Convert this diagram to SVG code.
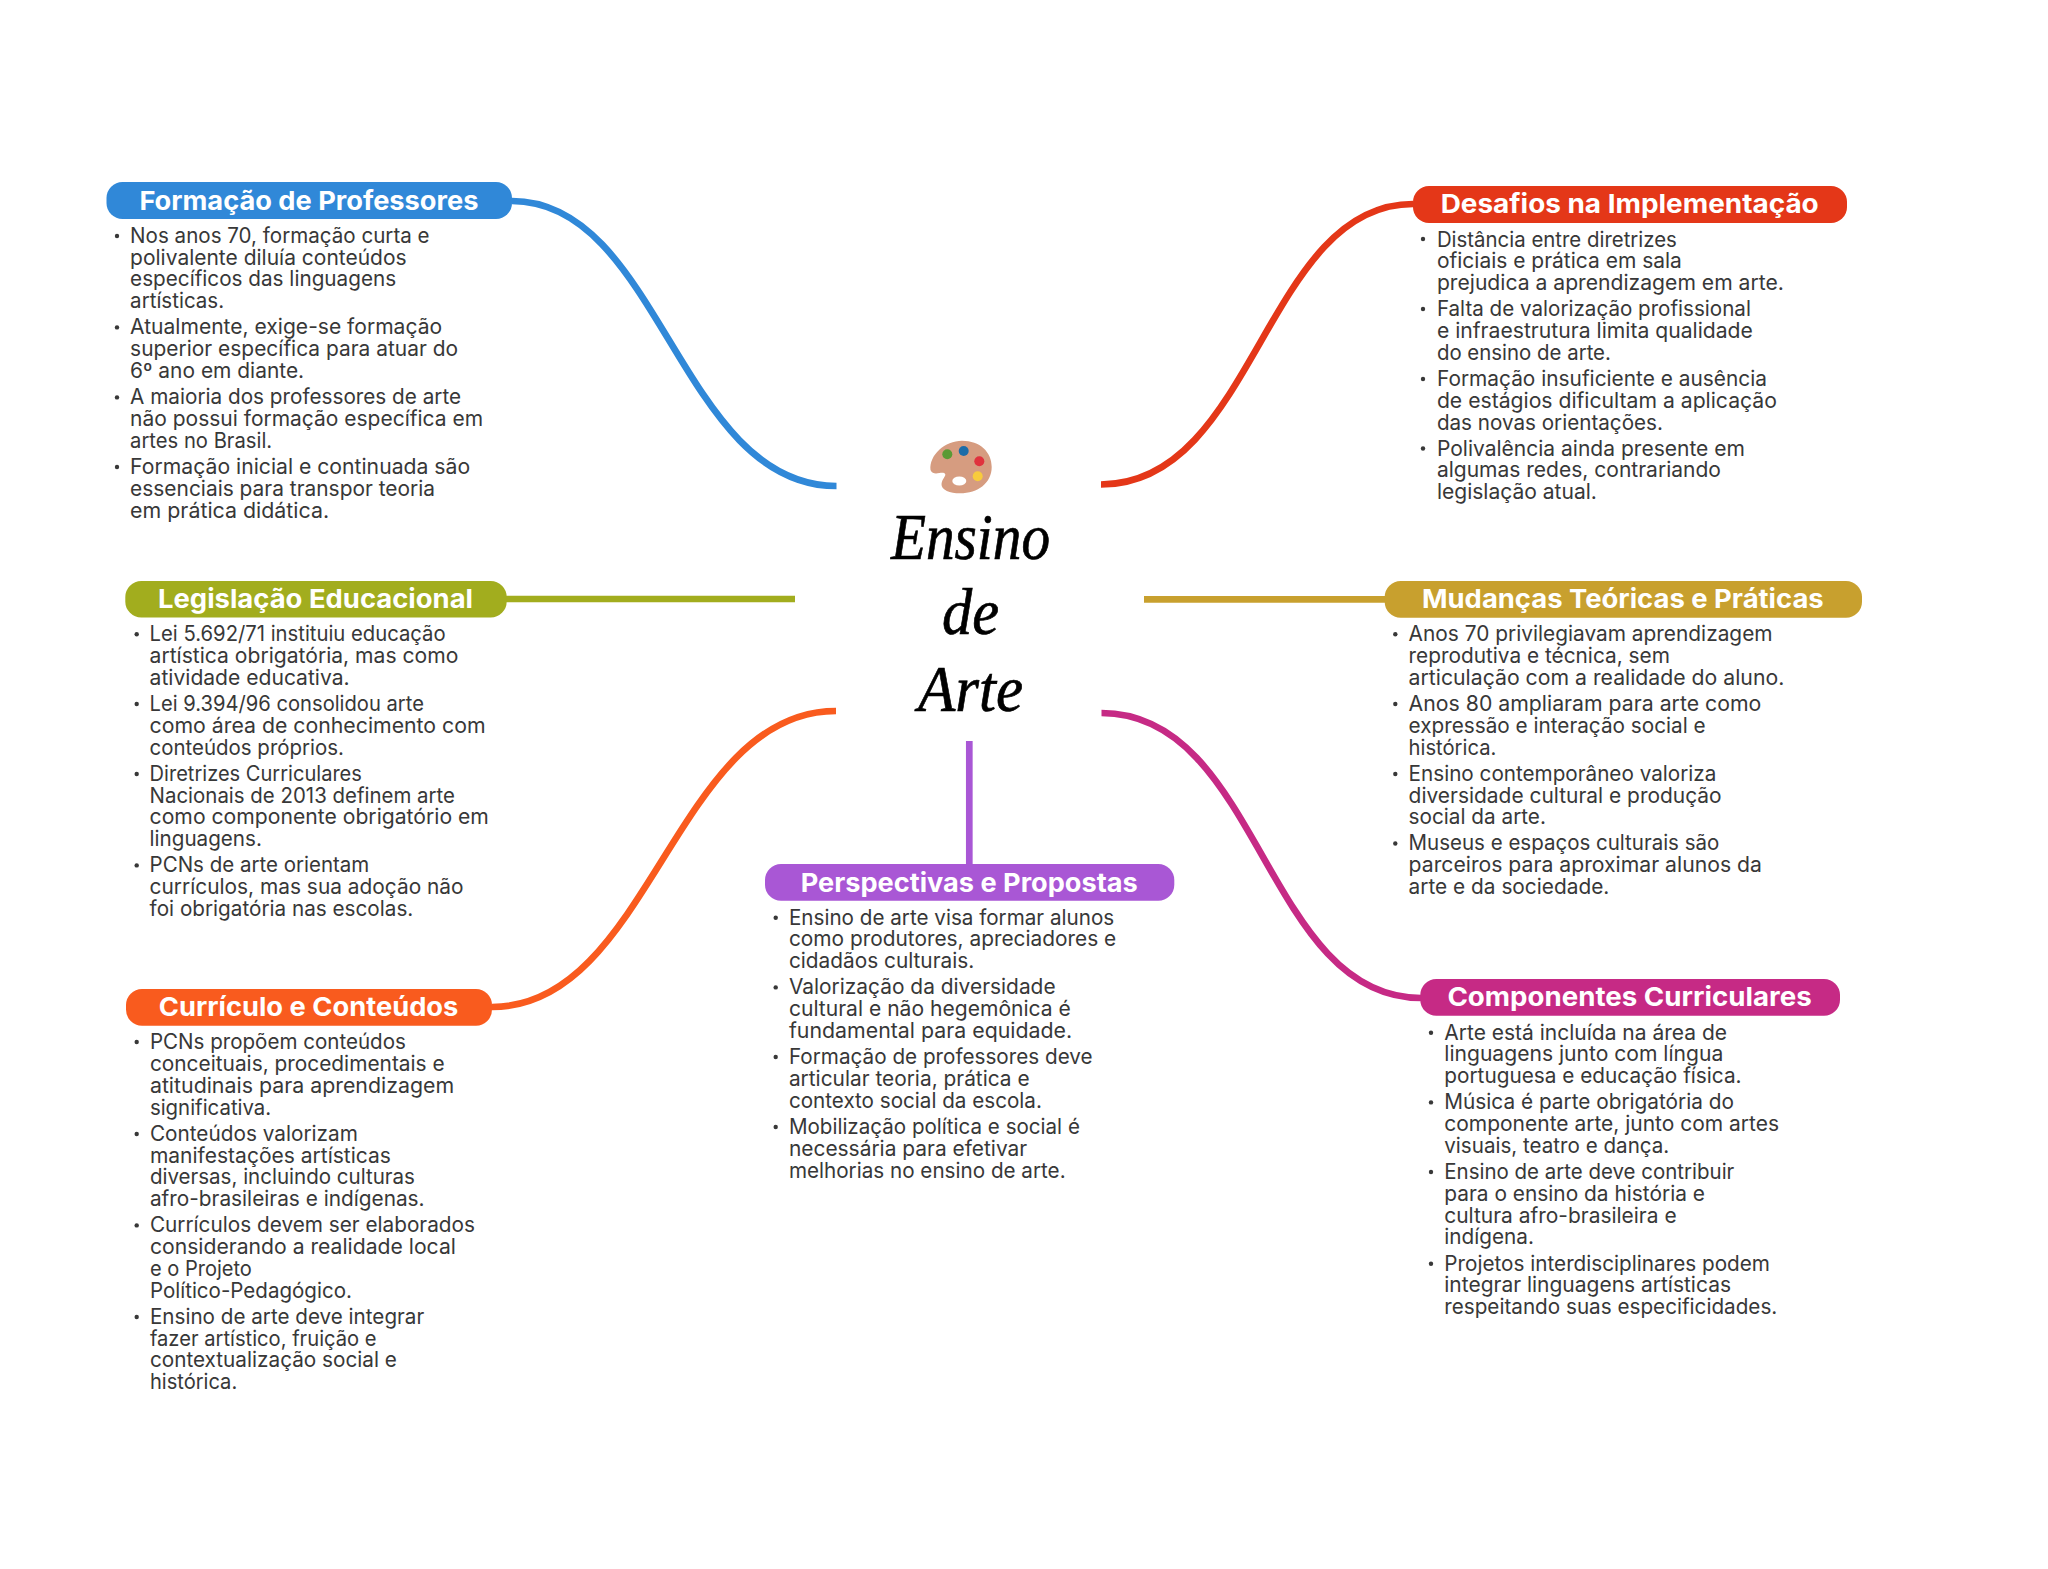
<svg xmlns="http://www.w3.org/2000/svg" width="2048" height="1569" viewBox="0 0 2048 1569">
<style>
.bg{fill:#fff}
.c{fill:none;stroke-width:6.7;stroke-linecap:butt}
.t{font-family:"Inter","Liberation Sans",sans-serif;font-size:26px;font-weight:700;fill:#fff;transform:translate(-.3px,.9px)}
.b{font-family:"Inter","Liberation Sans",sans-serif;font-size:21px;font-weight:400;fill:#383838;transform:translate(-.4px,.7px)}
.d{fill:#383838}
.m{font-family:"Liberation Serif",serif;font-style:italic;font-size:66px;fill:#000;stroke:#000;stroke-width:.7}
</style>
<defs><filter id="soft" x="-10%" y="-10%" width="120%" height="120%"><feGaussianBlur stdDeviation="0.5"/></filter></defs>
<rect class="bg" width="2048" height="1569"/>
<g id="connectors">
<path class="c" stroke="#3088D8" d="M512,201 C660,201 680,486 836.5,486"/>
<path class="c" stroke="#E43718" d="M1413,204 C1265,204 1255,484.5 1101,484.5"/>
<path class="c" stroke="#A2AD1E" d="M506,599 H795"/>
<path class="c" stroke="#C8A02E" d="M1144,599.3 H1386"/>
<path class="c" stroke="#F95B1E" d="M492,1007 C650,1007 675,711 836,711"/>
<path class="c" stroke="#C62A85" d="M1421,998 C1265,998 1260,713 1101.5,713"/>
<path class="c" stroke="#A957D5" d="M969.3,741 V865"/>
</g>
<g id="central">
<g filter="url(#soft)">
<path fill="#D69C80" d="M930.5,470 C929,455 945,440.7 962,440.7 C980,440.7 991.7,452 991.7,467 C991.7,483 978,493.3 960,493.3 C950,493.3 941,490 941.5,484 C942,478 948,475 944,473 C940,472 933,476 930.5,470Z"/>
<circle cx="947.3" cy="454.3" r="5" fill="#5A9A35"/>
<circle cx="963.7" cy="451" r="5" fill="#1F6CA8"/>
<circle cx="979.3" cy="461.3" r="5" fill="#E0303E"/>
<circle cx="977.7" cy="476.3" r="5" fill="#F8CB3C"/>
<ellipse cx="959.3" cy="481" rx="7" ry="4.5" fill="#fff"/>
</g>
<text class="m" x="891" y="559" textLength="159" lengthAdjust="spacingAndGlyphs">Ensino</text>
<text class="m" x="942" y="634" textLength="57" lengthAdjust="spacingAndGlyphs">de</text>
<text class="m" x="918" y="711" textLength="105" lengthAdjust="spacingAndGlyphs">Arte</text>
</g>
<g id="formacao-professores">
<rect x="106.5" y="182" width="405.5" height="37" rx="16" fill="#3088D8"/>
<text class="t" x="139.7" y="209.3" textLength="339" lengthAdjust="spacingAndGlyphs">Formação de Professores</text>
<circle class="d" cx="117" cy="236" r="2.2"/><circle class="d" cx="117" cy="327.4" r="2.2"/><circle class="d" cx="117" cy="397.4" r="2.2"/><circle class="d" cx="117" cy="467" r="2.2"/>
<text class="b" x="130.5" y="242.3" textLength="299.5" lengthAdjust="spacingAndGlyphs">Nos anos 70, formação curta e</text>
<text class="b" x="130.5" y="264" textLength="276.5" lengthAdjust="spacingAndGlyphs">polivalente diluía conteúdos</text>
<text class="b" x="130.5" y="285.7" textLength="266" lengthAdjust="spacingAndGlyphs">específicos das linguagens</text>
<text class="b" x="130.5" y="307.3" textLength="94" lengthAdjust="spacingAndGlyphs">artísticas.</text>
<text class="b" x="130.5" y="333.7" textLength="312" lengthAdjust="spacingAndGlyphs">Atualmente, exige-se formação</text>
<text class="b" x="130.5" y="355.7" textLength="328" lengthAdjust="spacingAndGlyphs">superior específica para atuar do</text>
<text class="b" x="130.5" y="377.3" textLength="174" lengthAdjust="spacingAndGlyphs">6º ano em diante.</text>
<text class="b" x="130.5" y="403.7" textLength="331" lengthAdjust="spacingAndGlyphs">A maioria dos professores de arte</text>
<text class="b" x="130.5" y="425.7" textLength="353" lengthAdjust="spacingAndGlyphs">não possui formação específica em</text>
<text class="b" x="130.5" y="447.3" textLength="142" lengthAdjust="spacingAndGlyphs">artes no Brasil.</text>
<text class="b" x="130.5" y="473.3" textLength="340" lengthAdjust="spacingAndGlyphs">Formação inicial e continuada são</text>
<text class="b" x="130.5" y="495" textLength="305" lengthAdjust="spacingAndGlyphs">essenciais para transpor teoria</text>
<text class="b" x="130.5" y="517" textLength="199" lengthAdjust="spacingAndGlyphs">em prática didática.</text>
</g>
<g id="legislacao-educacional">
<rect x="125.3" y="581" width="381.4" height="36.5" rx="16" fill="#A2AD1E"/>
<text class="t" x="158.3" y="607.3" textLength="315" lengthAdjust="spacingAndGlyphs">Legislação Educacional</text>
<circle class="d" cx="136.7" cy="634.3" r="2.2"/><circle class="d" cx="136.7" cy="704" r="2.2"/><circle class="d" cx="136.7" cy="774" r="2.2"/><circle class="d" cx="136.7" cy="865.4" r="2.2"/>
<text class="b" x="150" y="640.3" textLength="296" lengthAdjust="spacingAndGlyphs">Lei 5.692/71 instituiu educação</text>
<text class="b" x="150" y="662" textLength="308.7" lengthAdjust="spacingAndGlyphs">artística obrigatória, mas como</text>
<text class="b" x="150" y="684" textLength="200" lengthAdjust="spacingAndGlyphs">atividade educativa.</text>
<text class="b" x="150" y="710.3" textLength="274.3" lengthAdjust="spacingAndGlyphs">Lei 9.394/96 consolidou arte</text>
<text class="b" x="150" y="732" textLength="336" lengthAdjust="spacingAndGlyphs">como área de conhecimento com</text>
<text class="b" x="150" y="754" textLength="194.3" lengthAdjust="spacingAndGlyphs">conteúdos próprios.</text>
<text class="b" x="150" y="780" textLength="212.3" lengthAdjust="spacingAndGlyphs">Diretrizes Curriculares</text>
<text class="b" x="150" y="802" textLength="305.3" lengthAdjust="spacingAndGlyphs">Nacionais de 2013 definem arte</text>
<text class="b" x="150" y="823.7" textLength="339.3" lengthAdjust="spacingAndGlyphs">como componente obrigatório em</text>
<text class="b" x="150" y="845.3" textLength="112.3" lengthAdjust="spacingAndGlyphs">linguagens.</text>
<text class="b" x="150" y="871.7" textLength="219.7" lengthAdjust="spacingAndGlyphs">PCNs de arte orientam</text>
<text class="b" x="150" y="893.3" textLength="314" lengthAdjust="spacingAndGlyphs">currículos, mas sua adoção não</text>
<text class="b" x="150" y="915.3" textLength="263.7" lengthAdjust="spacingAndGlyphs">foi obrigatória nas escolas.</text>
</g>
<g id="curriculo-conteudos">
<rect x="126" y="989" width="366" height="36.7" rx="16" fill="#F95B1E"/>
<text class="t" x="159" y="1015" textLength="299.7" lengthAdjust="spacingAndGlyphs">Currículo e Conteúdos</text>
<circle class="d" cx="136.7" cy="1042" r="2.2"/><circle class="d" cx="136.7" cy="1134" r="2.2"/><circle class="d" cx="136.7" cy="1225.4" r="2.2"/><circle class="d" cx="136.7" cy="1317" r="2.2"/>
<text class="b" x="150.3" y="1048.7" textLength="256" lengthAdjust="spacingAndGlyphs">PCNs propõem conteúdos</text>
<text class="b" x="150.3" y="1070.3" textLength="294.7" lengthAdjust="spacingAndGlyphs">conceituais, procedimentais e</text>
<text class="b" x="150.3" y="1092.3" textLength="304.3" lengthAdjust="spacingAndGlyphs">atitudinais para aprendizagem</text>
<text class="b" x="150.3" y="1114" textLength="121.3" lengthAdjust="spacingAndGlyphs">significativa.</text>
<text class="b" x="150.3" y="1140.3" textLength="208" lengthAdjust="spacingAndGlyphs">Conteúdos valorizam</text>
<text class="b" x="150.3" y="1162" textLength="241" lengthAdjust="spacingAndGlyphs">manifestações artísticas</text>
<text class="b" x="150.3" y="1183.7" textLength="265" lengthAdjust="spacingAndGlyphs">diversas, incluindo culturas</text>
<text class="b" x="150.3" y="1205.7" textLength="274.7" lengthAdjust="spacingAndGlyphs">afro-brasileiras e indígenas.</text>
<text class="b" x="150.3" y="1231.7" textLength="325" lengthAdjust="spacingAndGlyphs">Currículos devem ser elaborados</text>
<text class="b" x="150.3" y="1253.7" textLength="306" lengthAdjust="spacingAndGlyphs">considerando a realidade local</text>
<text class="b" x="150.3" y="1275.3" textLength="102" lengthAdjust="spacingAndGlyphs">e o Projeto</text>
<text class="b" x="150.3" y="1297" textLength="202" lengthAdjust="spacingAndGlyphs">Político-Pedagógico.</text>
<text class="b" x="150.3" y="1323.3" textLength="274.3" lengthAdjust="spacingAndGlyphs">Ensino de arte deve integrar</text>
<text class="b" x="150.3" y="1345" textLength="226.7" lengthAdjust="spacingAndGlyphs">fazer artístico, fruição e</text>
<text class="b" x="150.3" y="1366.7" textLength="247" lengthAdjust="spacingAndGlyphs">contextualização social e</text>
<text class="b" x="150.3" y="1388.3" textLength="87.3" lengthAdjust="spacingAndGlyphs">histórica.</text>
</g>
<g id="perspectivas-propostas">
<rect x="765" y="864" width="409.3" height="36.7" rx="16" fill="#A957D5"/>
<text class="t" x="801" y="890.7" textLength="337" lengthAdjust="spacingAndGlyphs">Perspectivas e Propostas</text>
<circle class="d" cx="775.7" cy="917.7" r="2.2"/><circle class="d" cx="775.7" cy="987.4" r="2.2"/><circle class="d" cx="775.7" cy="1057" r="2.2"/><circle class="d" cx="775.7" cy="1127" r="2.2"/>
<text class="b" x="789.3" y="924" textLength="325.3" lengthAdjust="spacingAndGlyphs">Ensino de arte visa formar alunos</text>
<text class="b" x="789.3" y="945.7" textLength="327.3" lengthAdjust="spacingAndGlyphs">como produtores, apreciadores e</text>
<text class="b" x="789.3" y="967.3" textLength="185.3" lengthAdjust="spacingAndGlyphs">cidadãos culturais.</text>
<text class="b" x="789.3" y="993.7" textLength="266.7" lengthAdjust="spacingAndGlyphs">Valorização da diversidade</text>
<text class="b" x="789.3" y="1015.7" textLength="282" lengthAdjust="spacingAndGlyphs">cultural e não hegemônica é</text>
<text class="b" x="789.3" y="1037.3" textLength="283.3" lengthAdjust="spacingAndGlyphs">fundamental para equidade.</text>
<text class="b" x="789.3" y="1063.3" textLength="303.7" lengthAdjust="spacingAndGlyphs">Formação de professores deve</text>
<text class="b" x="789.3" y="1085.3" textLength="240.7" lengthAdjust="spacingAndGlyphs">articular teoria, prática e</text>
<text class="b" x="789.3" y="1107" textLength="253" lengthAdjust="spacingAndGlyphs">contexto social da escola.</text>
<text class="b" x="789.3" y="1133.3" textLength="291" lengthAdjust="spacingAndGlyphs">Mobilização política e social é</text>
<text class="b" x="789.3" y="1155" textLength="238.3" lengthAdjust="spacingAndGlyphs">necessária para efetivar</text>
<text class="b" x="789.3" y="1177" textLength="276.7" lengthAdjust="spacingAndGlyphs">melhorias no ensino de arte.</text>
</g>
<g id="desafios-implementacao">
<rect x="1413" y="186" width="434" height="37" rx="16" fill="#E43718"/>
<text class="t" x="1441" y="212" textLength="378" lengthAdjust="spacingAndGlyphs">Desafios na Implementação</text>
<circle class="d" cx="1423" cy="239" r="2.2"/><circle class="d" cx="1423" cy="309" r="2.2"/><circle class="d" cx="1423" cy="379" r="2.2"/><circle class="d" cx="1423" cy="448.5" r="2.2"/>
<text class="b" x="1437.3" y="246" textLength="240" lengthAdjust="spacingAndGlyphs">Distância entre diretrizes</text>
<text class="b" x="1437.3" y="267.7" textLength="245" lengthAdjust="spacingAndGlyphs">oficiais e prática em sala</text>
<text class="b" x="1437.3" y="289.3" textLength="347" lengthAdjust="spacingAndGlyphs">prejudica a aprendizagem em arte.</text>
<text class="b" x="1437.3" y="315.7" textLength="314" lengthAdjust="spacingAndGlyphs">Falta de valorização profissional</text>
<text class="b" x="1437.3" y="337.7" textLength="316" lengthAdjust="spacingAndGlyphs">e infraestrutura limita qualidade</text>
<text class="b" x="1437.3" y="359.3" textLength="174" lengthAdjust="spacingAndGlyphs">do ensino de arte.</text>
<text class="b" x="1437.3" y="385.3" textLength="330" lengthAdjust="spacingAndGlyphs">Formação insuficiente e ausência</text>
<text class="b" x="1437.3" y="407.3" textLength="340" lengthAdjust="spacingAndGlyphs">de estágios dificultam a aplicação</text>
<text class="b" x="1437.3" y="429" textLength="226" lengthAdjust="spacingAndGlyphs">das novas orientações.</text>
<text class="b" x="1437.3" y="455" textLength="308" lengthAdjust="spacingAndGlyphs">Polivalência ainda presente em</text>
<text class="b" x="1437.3" y="476.7" textLength="284" lengthAdjust="spacingAndGlyphs">algumas redes, contrariando</text>
<text class="b" x="1437.3" y="498.7" textLength="160" lengthAdjust="spacingAndGlyphs">legislação atual.</text>
</g>
<g id="mudancas-teoricas-praticas">
<rect x="1384.7" y="581" width="477.3" height="36.7" rx="16" fill="#C8A02E"/>
<text class="t" x="1422.3" y="607.3" textLength="401.7" lengthAdjust="spacingAndGlyphs">Mudanças Teóricas e Práticas</text>
<circle class="d" cx="1395.3" cy="634.3" r="2.2"/><circle class="d" cx="1395.3" cy="704" r="2.2"/><circle class="d" cx="1395.3" cy="774" r="2.2"/><circle class="d" cx="1395.3" cy="843.5" r="2.2"/>
<text class="b" x="1409" y="640.7" textLength="364" lengthAdjust="spacingAndGlyphs">Anos 70 privilegiavam aprendizagem</text>
<text class="b" x="1409" y="662.3" textLength="261.3" lengthAdjust="spacingAndGlyphs">reprodutiva e técnica, sem</text>
<text class="b" x="1409" y="684.3" textLength="375.7" lengthAdjust="spacingAndGlyphs">articulação com a realidade do aluno.</text>
<text class="b" x="1409" y="710.3" textLength="352.7" lengthAdjust="spacingAndGlyphs">Anos 80 ampliaram para arte como</text>
<text class="b" x="1409" y="732.3" textLength="297" lengthAdjust="spacingAndGlyphs">expressão e interação social e</text>
<text class="b" x="1409" y="754" textLength="87.7" lengthAdjust="spacingAndGlyphs">histórica.</text>
<text class="b" x="1409" y="780" textLength="307.7" lengthAdjust="spacingAndGlyphs">Ensino contemporâneo valoriza</text>
<text class="b" x="1409" y="802" textLength="313" lengthAdjust="spacingAndGlyphs">diversidade cultural e produção</text>
<text class="b" x="1409" y="823.7" textLength="137.3" lengthAdjust="spacingAndGlyphs">social da arte.</text>
<text class="b" x="1409" y="849.7" textLength="310.7" lengthAdjust="spacingAndGlyphs">Museus e espaços culturais são</text>
<text class="b" x="1409" y="871.7" textLength="353.3" lengthAdjust="spacingAndGlyphs">parceiros para aproximar alunos da</text>
<text class="b" x="1409" y="893.3" textLength="200.7" lengthAdjust="spacingAndGlyphs">arte e da sociedade.</text>
</g>
<g id="componentes-curriculares">
<rect x="1420.3" y="979" width="419.7" height="36.7" rx="16" fill="#C62A85"/>
<text class="t" x="1447.7" y="1005" textLength="364.3" lengthAdjust="spacingAndGlyphs">Componentes Curriculares</text>
<circle class="d" cx="1431" cy="1032.7" r="2.2"/><circle class="d" cx="1431" cy="1102.4" r="2.2"/><circle class="d" cx="1431" cy="1172" r="2.2"/><circle class="d" cx="1431" cy="1263.7" r="2.2"/>
<text class="b" x="1444.7" y="1039" textLength="282.7" lengthAdjust="spacingAndGlyphs">Arte está incluída na área de</text>
<text class="b" x="1444.7" y="1060.7" textLength="279" lengthAdjust="spacingAndGlyphs">linguagens junto com língua</text>
<text class="b" x="1444.7" y="1082.7" textLength="297.3" lengthAdjust="spacingAndGlyphs">portuguesa e educação física.</text>
<text class="b" x="1444.7" y="1108.7" textLength="289.7" lengthAdjust="spacingAndGlyphs">Música é parte obrigatória do</text>
<text class="b" x="1444.7" y="1130.7" textLength="334.7" lengthAdjust="spacingAndGlyphs">componente arte, junto com artes</text>
<text class="b" x="1444.7" y="1152.3" textLength="225" lengthAdjust="spacingAndGlyphs">visuais, teatro e dança.</text>
<text class="b" x="1444.7" y="1178.3" textLength="290" lengthAdjust="spacingAndGlyphs">Ensino de arte deve contribuir</text>
<text class="b" x="1444.7" y="1200.3" textLength="260.7" lengthAdjust="spacingAndGlyphs">para o ensino da história e</text>
<text class="b" x="1444.7" y="1222" textLength="232.3" lengthAdjust="spacingAndGlyphs">cultura afro-brasileira e</text>
<text class="b" x="1444.7" y="1243.7" textLength="89.7" lengthAdjust="spacingAndGlyphs">indígena.</text>
<text class="b" x="1444.7" y="1270" textLength="325.7" lengthAdjust="spacingAndGlyphs">Projetos interdisciplinares podem</text>
<text class="b" x="1444.7" y="1291.7" textLength="286.7" lengthAdjust="spacingAndGlyphs">integrar linguagens artísticas</text>
<text class="b" x="1444.7" y="1313.7" textLength="333" lengthAdjust="spacingAndGlyphs">respeitando suas especificidades.</text>
</g>
</svg>
